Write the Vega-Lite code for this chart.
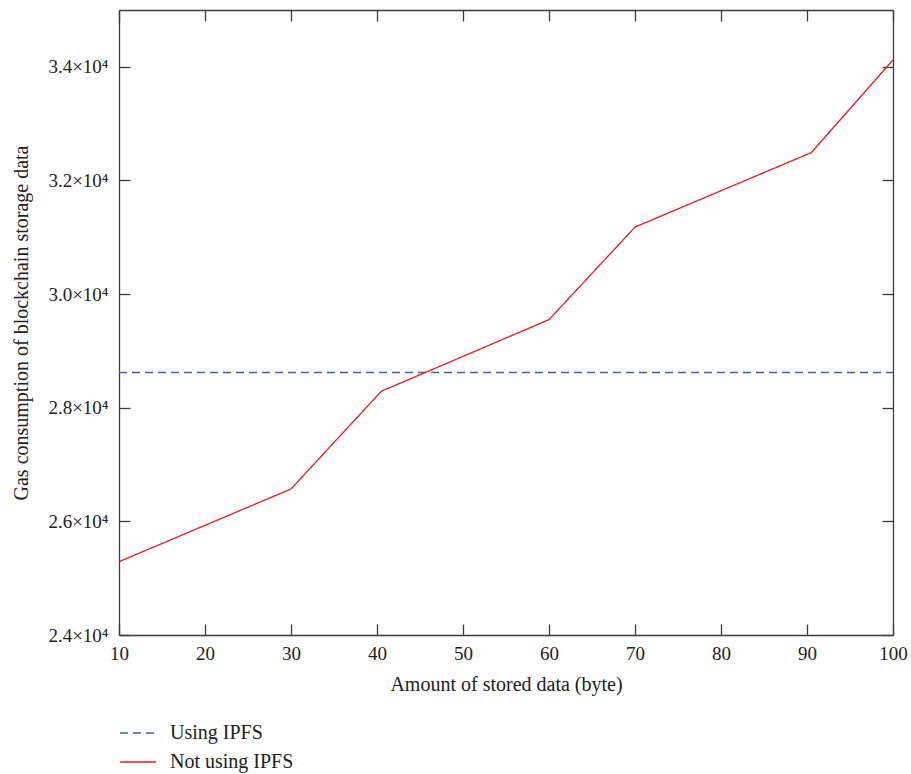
{
  "$schema": "https://vega.github.io/schema/vega-lite/v6.json",
  "width": 774,
  "height": 625,
  "autosize": {"type": "none"},
  "padding": {"left": 119, "top": 10, "right": 18, "bottom": 139},
  "background": "white",
  "config": {
    "view": {"stroke": null},
    "font": "Liberation Serif",
    "axis": {
      "grid": false,
      "domainColor": "#3a3a3a",
      "domainWidth": 1.3,
      "tickColor": "#3a3a3a",
      "tickWidth": 1.3,
      "tickSize": -11,
      "labelFont": "Liberation Serif",
      "labelFontSize": 19,
      "labelColor": "#222",
      "titleFont": "Liberation Serif",
      "titleFontSize": 20,
      "titleFontWeight": "normal",
      "titleColor": "#222"
    },
    "legend": {
      "labelFont": "Liberation Serif",
      "labelFontSize": 20,
      "labelColor": "#222"
    }
  },
  "data": {
    "values": [
      {"bytes": 10, "gas": 28620, "series": "Using IPFS"},
      {"bytes": 100, "gas": 28620, "series": "Using IPFS"},
      {"bytes": 10, "gas": 25290, "series": "Not using IPFS"},
      {"bytes": 30, "gas": 26570, "series": "Not using IPFS"},
      {"bytes": 40.5, "gas": 28290, "series": "Not using IPFS"},
      {"bytes": 60, "gas": 29550, "series": "Not using IPFS"},
      {"bytes": 70, "gas": 31180, "series": "Not using IPFS"},
      {"bytes": 90.5, "gas": 32490, "series": "Not using IPFS"},
      {"bytes": 100, "gas": 34120, "series": "Not using IPFS"}
    ]
  },
  "resolve": {"axis": {"x": "independent", "y": "independent"}},
  "layer": [
    {
      "mark": {"type": "line", "strokeWidth": 1.3, "clip": true},
      "encoding": {
        "x": {
          "field": "bytes", "type": "quantitative",
          "scale": {"domain": [10, 100], "nice": false, "zero": false},
          "axis": {"values": [10,20,30,40,50,60,70,80,90,100], "title": "Amount of stored data (byte)", "labelPadding": 20, "titlePadding": 11, "labelFlush": false}
        },
        "y": {
          "field": "gas", "type": "quantitative",
          "scale": {"domain": [24000, 35000], "nice": false, "zero": false},
          "axis": {
            "values": [24000, 26000, 28000, 30000, 32000, 34000],
            "labelExpr": "format(datum.value/10000, '.1f') + '×10⁴'",
            "title": "Gas consumption of blockchain storage data",
            "labelPadding": 22, "titlePadding": 16, "labelFlush": false
          }
        },
        "color": {
          "field": "series", "type": "nominal",
          "scale": {"domain": ["Using IPFS", "Not using IPFS"], "range": ["#3d5fbf", "#f0181e"]},
          "legend": {
            "title": null, "orient": "none", "legendX": 0, "legendY": 704,
            "direction": "vertical", "symbolType": "stroke", "symbolSize": 1300,
            "symbolStrokeWidth": 1.3, "rowPadding": -13, "labelOffset": 13
          }
        },
        "strokeDash": {
          "field": "series", "type": "nominal",
          "scale": {"domain": ["Using IPFS", "Not using IPFS"], "range": [[8, 5], [1, 0]]},
          "legend": null
        },
        "order": {"field": "bytes", "type": "quantitative"}
      }
    },
    {
      "mark": {"type": "line", "opacity": 0},
      "encoding": {
        "x": {
          "field": "bytes", "type": "quantitative",
          "scale": {"domain": [10, 100], "nice": false, "zero": false},
          "axis": {"orient": "top", "values": [10,20,30,40,50,60,70,80,90,100], "labels": false, "title": null}
        },
        "y": {
          "field": "gas", "type": "quantitative",
          "scale": {"domain": [24000, 35000], "nice": false, "zero": false},
          "axis": {"orient": "right", "values": [24000, 26000, 28000, 30000, 32000, 34000], "labels": false, "title": null}
        },
        "detail": {"field": "series"}
      }
    }
  ]
}
